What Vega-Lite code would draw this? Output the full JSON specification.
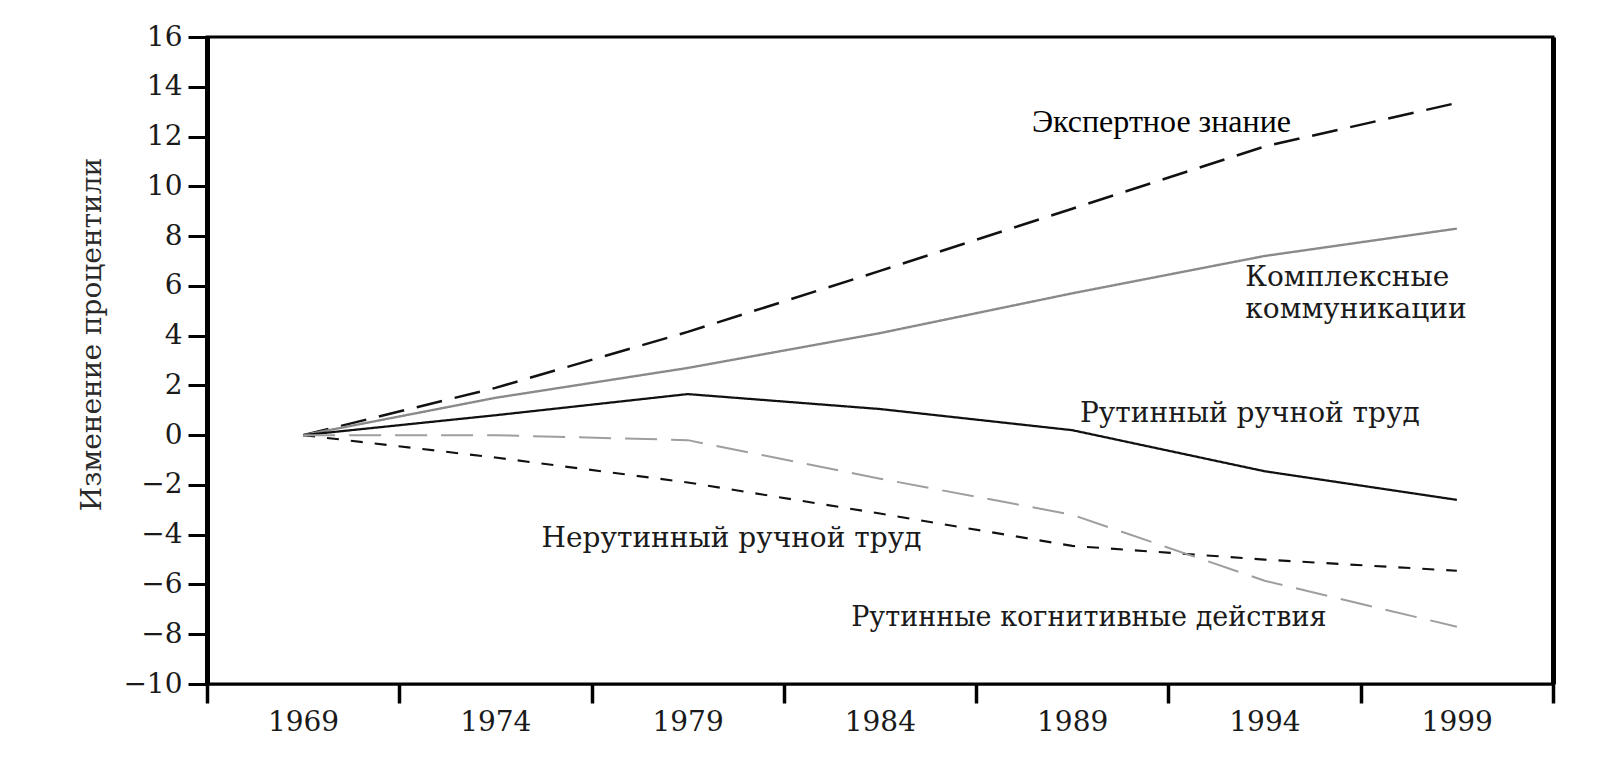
{
  "$schema": "https://vega.github.io/schema/vega-lite/v6.json",
  "width": 1346,
  "height": 647,
  "autosize": {"type": "none"},
  "padding": {"left": 207, "top": 37, "right": 57, "bottom": 77},
  "background": "white",
  "config": {
    "view": {"stroke": "black", "strokeWidth": 3},
    "font": "DejaVu Serif"
  },
  "datasets": {
    "series": [
      {"series": "Экспертное знание", "year": 1969, "value": 0},
      {"series": "Экспертное знание", "year": 1974, "value": 1.9},
      {"series": "Экспертное знание", "year": 1979, "value": 4.15},
      {"series": "Экспертное знание", "year": 1984, "value": 6.6},
      {"series": "Экспертное знание", "year": 1989, "value": 9.1},
      {"series": "Экспертное знание", "year": 1994, "value": 11.6},
      {"series": "Экспертное знание", "year": 1999, "value": 13.35},
      {"series": "Комплексные коммуникации", "year": 1969, "value": 0},
      {"series": "Комплексные коммуникации", "year": 1974, "value": 1.5},
      {"series": "Комплексные коммуникации", "year": 1979, "value": 2.7},
      {"series": "Комплексные коммуникации", "year": 1984, "value": 4.1},
      {"series": "Комплексные коммуникации", "year": 1989, "value": 5.7},
      {"series": "Комплексные коммуникации", "year": 1994, "value": 7.2},
      {"series": "Комплексные коммуникации", "year": 1999, "value": 8.3},
      {"series": "Рутинный ручной труд", "year": 1969, "value": 0},
      {"series": "Рутинный ручной труд", "year": 1974, "value": 0.8},
      {"series": "Рутинный ручной труд", "year": 1979, "value": 1.65},
      {"series": "Рутинный ручной труд", "year": 1984, "value": 1.05},
      {"series": "Рутинный ручной труд", "year": 1989, "value": 0.2},
      {"series": "Рутинный ручной труд", "year": 1994, "value": -1.45},
      {"series": "Рутинный ручной труд", "year": 1999, "value": -2.6},
      {"series": "Нерутинный ручной труд", "year": 1969, "value": 0},
      {"series": "Нерутинный ручной труд", "year": 1974, "value": -0.9},
      {"series": "Нерутинный ручной труд", "year": 1979, "value": -1.9},
      {"series": "Нерутинный ручной труд", "year": 1984, "value": -3.15},
      {"series": "Нерутинный ручной труд", "year": 1989, "value": -4.45},
      {"series": "Нерутинный ручной труд", "year": 1994, "value": -5.0},
      {"series": "Нерутинный ручной труд", "year": 1999, "value": -5.45},
      {"series": "Рутинные когнитивные действия", "year": 1969, "value": 0},
      {"series": "Рутинные когнитивные действия", "year": 1974, "value": 0},
      {"series": "Рутинные когнитивные действия", "year": 1979, "value": -0.2},
      {"series": "Рутинные когнитивные действия", "year": 1984, "value": -1.75},
      {"series": "Рутинные когнитивные действия", "year": 1989, "value": -3.2},
      {"series": "Рутинные когнитивные действия", "year": 1994, "value": -5.85},
      {"series": "Рутинные когнитивные действия", "year": 1999, "value": -7.7}
    ],
    "labels": [
      {"label": "Комплексные", "x": 1993.5, "y": 6.0},
      {"label": "коммуникации", "x": 1993.5, "y": 4.7},
      {"label": "Рутинный ручной труд", "x": 1989.2, "y": 0.53},
      {"label": "Нерутинный ручной труд", "x": 1975.2, "y": -4.49}
    ],
    "labels2": [
      {"label": "Рутинные когнитивные действия", "x": 1983.25, "y": -7.66}
    ],
    "expert": [
      {"label": "Экспертное знание", "x": 1987.95, "y": 12.2}
    ]
  },
  "resolve": {"scale": {"y": "independent"}},
  "layer": [
    {
      "data": {"name": "series"},
      "mark": {"type": "line", "strokeCap": "butt"},
      "encoding": {
        "x": {
          "field": "year",
          "type": "quantitative",
          "scale": {"domain": [1966.5, 2001.5], "nice": false, "zero": false},
          "axis": {
            "values": [1966.5, 1971.5, 1976.5, 1981.5, 1986.5, 1991.5, 1996.5, 2001.5],
            "labelExpr": "datum.value > 2000 ? '' : format(datum.value + 2.5, 'd')",
            "labelOffset": 96,
            "labelAlign": "center",
            "labelFlush": false,
            "labelOverlap": false,
            "labelBound": false,
            "labelFont": "DejaVu Serif",
            "labelFontSize": 28,
            "labelColor": "#1a1a1a",
            "labelPadding": 5,
            "tickSize": 19,
            "tickWidth": 3.5,
            "tickColor": "black",
            "domainColor": "black",
            "domainWidth": 2,
            "grid": false,
            "title": null
          }
        },
        "y": {
          "field": "value",
          "type": "quantitative",
          "scale": {"domain": [-10, 16], "nice": false, "zero": false},
          "axis": {
            "values": [-10, -8, -6, -4, -2, 0, 2, 4, 6, 8, 10, 12, 14, 16],
            "labelFont": "DejaVu Serif",
            "labelFontSize": 28,
            "labelColor": "#1a1a1a",
            "labelPadding": 6,
            "tickSize": 19,
            "tickWidth": 3,
            "tickColor": "black",
            "domainColor": "black",
            "domainWidth": 5,
            "grid": false,
            "title": "Изменение процентили",
            "titleFont": "DejaVu Serif",
            "titleFontSize": 28,
            "titleFontWeight": "normal",
            "titleColor": "#2a2a2a",
            "titleAngle": 270,
            "titleX": -107,
            "titleY": 297,
            "titleAlign": "center",
            "titleBaseline": "alphabetic"
          }
        },
        "color": {
          "field": "series",
          "type": "nominal",
          "scale": {
            "domain": ["Экспертное знание", "Комплексные коммуникации", "Рутинный ручной труд", "Нерутинный ручной труд", "Рутинные когнитивные действия"],
            "range": ["#111111", "#8a8a8a", "#111111", "#111111", "#9e9e9e"]
          },
          "legend": null
        },
        "strokeDash": {
          "field": "series",
          "type": "nominal",
          "scale": {
            "domain": ["Экспертное знание", "Комплексные коммуникации", "Рутинный ручной труд", "Нерутинный ручной труд", "Рутинные когнитивные действия"],
            "range": [[26, 13], [1, 0], [1, 0], [12, 12], [32, 14]]
          },
          "legend": null
        },
        "strokeWidth": {
          "field": "series",
          "type": "nominal",
          "scale": {
            "domain": ["Экспертное знание", "Комплексные коммуникации", "Рутинный ручной труд", "Нерутинный ручной труд", "Рутинные когнитивные действия"],
            "range": [2.5, 2, 2.5, 2.5, 2]
          },
          "legend": null
        }
      }
    },
    {
      "data": {"name": "labels"},
      "mark": {"type": "text", "align": "left", "baseline": "alphabetic", "font": "DejaVu Serif", "fontSize": 28, "color": "#1a1a1a"},
      "encoding": {
        "x": {"field": "x", "type": "quantitative"},
        "y": {
          "field": "y",
          "type": "quantitative",
          "scale": {"domain": [-10, 16], "nice": false, "zero": false},
          "axis": {"orient": "right", "labels": false, "ticks": false, "grid": false, "title": null, "domainColor": "black", "domainWidth": 5}
        },
        "text": {"field": "label"}
      }
    },
    {
      "data": {"name": "labels2"},
      "mark": {"type": "text", "align": "left", "baseline": "alphabetic", "font": "DejaVu Serif", "fontSize": 27, "color": "#1a1a1a"},
      "encoding": {
        "x": {"field": "x", "type": "quantitative"},
        "y": {
          "field": "y",
          "type": "quantitative",
          "scale": {"domain": [-10, 16], "nice": false, "zero": false},
          "axis": null
        },
        "text": {"field": "label"}
      }
    },
    {
      "data": {"name": "expert"},
      "mark": {"type": "text", "align": "left", "baseline": "alphabetic", "font": "Liberation Serif", "fontSize": 32, "color": "#000000"},
      "encoding": {
        "x": {"field": "x", "type": "quantitative"},
        "y": {
          "field": "y",
          "type": "quantitative",
          "scale": {"domain": [-10, 16], "nice": false, "zero": false},
          "axis": null
        },
        "text": {"field": "label"}
      }
    }
  ]
}
